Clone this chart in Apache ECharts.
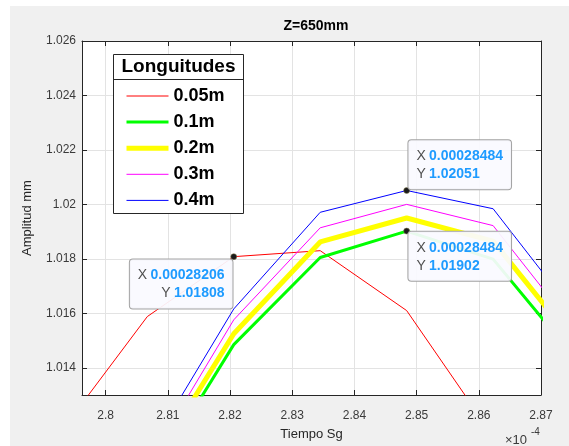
<!DOCTYPE html>
<html>
<head>
<meta charset="utf-8">
<script src="https://cdn.jsdelivr.net/npm/echarts@6/dist/echarts.min.js"></script>
<style>
  html, body { margin: 0; padding: 0; background: #ffffff; }
  #chart { width: 569px; height: 446px; }
</style>
</head>
<body>
<div id="chart"></div>
<script>
// Sample times, in units of 1e-4 s
const tiempo = [2.7928, 2.8067, 2.8206, 2.8345, 2.8484, 2.8623, 2.8762];

// Amplitude (mm) per probe length
const amp005 = [1.01165, 1.01588, 1.01808, 1.01830, 1.01610, 1.01150, null];
const amp01  = [null, 1.00971, 1.01485, 1.01805, 1.01902, 1.01799, 1.01415];
const amp02  = [null, 1.01010, 1.01525, 1.01862, 1.01950, 1.01865, 1.01470];
const amp03  = [null, 1.01046, 1.01576, 1.01914, 1.02000, 1.01922, 1.01519];
const amp04  = [null, 1.01088, 1.01616, 1.01971, 1.02051, 1.01984, 1.01576];

const nombres = ['0.05m', '0.1m', '0.2m', '0.3m', '0.4m'];
const colores = ['#ff0000', '#00ff00', '#ffff00', '#ff00ff', '#0000ff'];
const anchos  = [1, 3, 5, 1, 1];

const xMin = 2.7962, xMax = 2.87;
const yMin = 1.013, yMax = 1.026;

const FONT = '"Liberation Sans", Arial, Helvetica, sans-serif';
const AXIS_COLOR = '#262626';

function pares(ys) {
  const out = [];
  for (let i = 0; i < tiempo.length; i++) {
    if (ys[i] !== null) out.push([tiempo[i], ys[i]]);
  }
  return out;
}

// Data tip text built from a sample
function textoTip(i, ys) {
  const xs = (tiempo[i] * 1e-4).toFixed(8);
  const yv = ys[i].toFixed(5);
  return '{k|X} {v|' + xs + '}\n{k|Y} {v|' + yv + '}';
}

const tipRich = {
  k: { color: '#505050', fontSize: 14, fontFamily: FONT, lineHeight: 18 },
  v: { color: '#1e9bff', fontSize: 14, fontWeight: 'bold', fontFamily: FONT, lineHeight: 18 }
};

function tipLabel(text, position, align, vAlign) {
  return {
    show: true,
    position: position,
    align: align,
    verticalAlign: vAlign,
    formatter: text,
    backgroundColor: 'rgba(250,250,255,0.93)',
    borderColor: '#a3a3a3',
    borderWidth: 1,
    borderRadius: 3,
    padding: [7, 8, 6, 8],
    rich: tipRich
  };
}

function tipPoint(i, ys, label) {
  return {
    coord: [tiempo[i], ys[i]],
    symbol: 'circle',
    symbolSize: 6,
    itemStyle: { color: '#1a1a1a', borderColor: '#8a8050', borderWidth: 0.5 },
    label: label
  };
}

const valores = [amp005, amp01, amp02, amp03, amp04];

// Data tips: index into tiempo and the series that carries them
const tips = {
  0: [tipPoint(2, amp005, tipLabel(textoTip(2, amp005), [2, 6], 'right', 'top'))],
  1: [tipPoint(4, amp01, tipLabel(textoTip(4, amp01), [5, 4], 'left', 'top'))],
  4: [tipPoint(4, amp04, tipLabel(textoTip(4, amp04), [5, 2], 'left', 'bottom'))]
};

const series = valores.map((ys, k) => {
  const s = {
    name: nombres[k],
    type: 'line',
    data: pares(ys),
    xAxisIndex: 0,
    yAxisIndex: 0,
    symbol: 'none',
    showSymbol: false,
    animation: false,
    silent: true,
    z: 2,
    lineStyle: { color: colores[k], width: anchos[k] },
    itemStyle: { color: colores[k] },
    emphasis: { disabled: true }
  };
  if (tips[k]) {
    s.markPoint = { silent: true, animation: false, data: tips[k] };
  }
  return s;
});

const chart = echarts.init(document.getElementById('chart'), null, { renderer: 'canvas' });

const gridBox = { left: 82, top: 41, width: 459, height: 359 };

const ejeX = {
  type: 'value', min: xMin, max: xMax, splitNumber: 7, gridIndex: 0,
  axisLine: { show: true, lineStyle: { color: AXIS_COLOR, width: 1 } },
  axisTick: { show: true, inside: true, length: 5, lineStyle: { color: AXIS_COLOR } },
  splitLine: { show: true, lineStyle: { color: '#e3e3e3', width: 1 } }
};
const ejeY = {
  type: 'value', min: yMin, max: yMax, splitNumber: 6, gridIndex: 0,
  axisLine: { show: true, lineStyle: { color: AXIS_COLOR, width: 1 } },
  axisTick: { show: true, inside: true, length: 5, lineStyle: { color: AXIS_COLOR } },
  splitLine: { show: true, lineStyle: { color: '#e3e3e3', width: 1 } }
};

chart.setOption({
  animation: false,
  backgroundColor: 'transparent',
  textStyle: { fontFamily: FONT },
  title: {
    text: 'Z=650mm',
    left: 311, top: 14, textAlign: 'center',
    textStyle: { fontSize: 14, fontWeight: 'bold', color: '#000', fontFamily: FONT }
  },
  grid: Object.assign({ show: true, backgroundColor: '#ffffff', borderWidth: 0 }, gridBox),
  xAxis: [
    Object.assign({}, ejeX, {
      position: 'bottom',
      name: 'Tiempo Sg', nameLocation: 'middle', nameGap: 33,
      nameTextStyle: { fontSize: 13, color: '#262626', fontFamily: FONT },
      axisLabel: { show: true, showMinLabel: false, margin: 15, fontSize: 12, color: '#3a3a3a', fontFamily: FONT }
    }),
    Object.assign({}, ejeX, {
      position: 'top',
      axisLabel: { show: false },
      splitLine: { show: false }
    })
  ],
  yAxis: [
    Object.assign({}, ejeY, {
      position: 'left',
      name: 'Amplitud mm', nameLocation: 'middle', nameGap: 48, nameRotate: 90,
      nameTextStyle: { fontSize: 13, color: '#262626', fontFamily: FONT },
      axisLabel: { show: true, showMinLabel: false, margin: 6, fontSize: 12, color: '#3a3a3a', fontFamily: FONT }
    }),
    Object.assign({}, ejeY, {
      position: 'right',
      axisLabel: { show: false },
      splitLine: { show: false }
    })
  ],
  legend: {
    data: nombres.map((n, k) => ({
      name: n,
      lineStyle: { color: colores[k], width: anchos[k] },
      itemStyle: { color: 'rgba(0,0,0,0)', borderWidth: 0, opacity: 0 }
    })),
    orient: 'vertical',
    left: 124, top: 87,
    itemWidth: 42, itemHeight: 18, itemGap: 8.1,
    selectedMode: false,
    padding: 0,
    textStyle: { fontSize: 18, fontWeight: 'bold', color: '#000', fontFamily: FONT },
    z: 10
  },
  graphic: [
    // figure background
    { type: 'rect', z: -100, silent: true, shape: { x: 10, y: 6, width: 559, height: 440 }, style: { fill: '#f0f0f0' } },
    // legend frame and heading
    { type: 'rect', z: 9, silent: true, shape: { x: 113.5, y: 54.5, width: 130, height: 159 }, style: { fill: '#ffffff', stroke: '#262626', lineWidth: 1 } },
    { type: 'line', z: 9, silent: true, shape: { x1: 113.5, y1: 79.5, x2: 243.5, y2: 79.5 }, style: { stroke: '#262626', lineWidth: 1 } },
    { type: 'text', z: 11, silent: true, x: 178.5, y: 67, style: { text: 'Longuitudes', font: 'bold 19px ' + FONT, fill: '#000', align: 'center', verticalAlign: 'middle' } },
    // exponent note under the x axis
    { type: 'text', z: 11, silent: true, x: 505, y: 440, style: { text: '×10', font: '13px ' + FONT, fill: '#3a3a3a', align: 'left', verticalAlign: 'middle' } },
    { type: 'text', z: 11, silent: true, x: 531, y: 432, style: { text: '-4', font: '10px ' + FONT, fill: '#3a3a3a', align: 'left', verticalAlign: 'middle' } }
  ],
  series: series
});
</script>
</body>
</html>
